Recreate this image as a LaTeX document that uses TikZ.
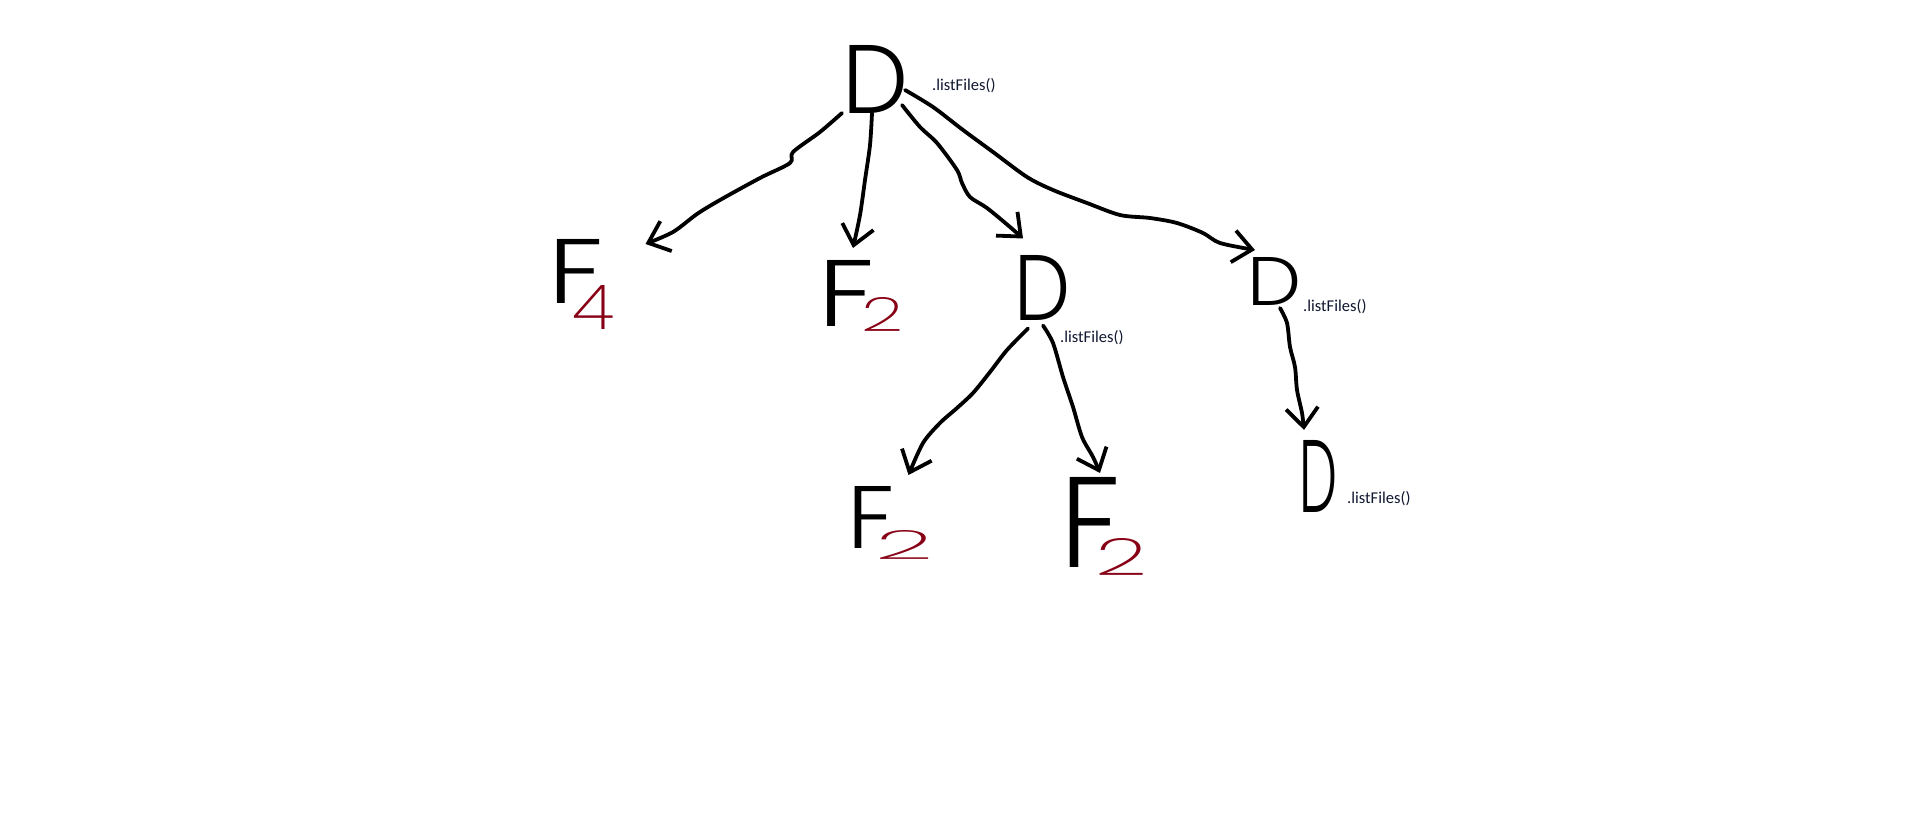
\documentclass[tikz,border=0pt]{standalone}
\usepackage{fontspec}
\usepackage{graphicx}
\newfontfamily\labelfont{Carlito}
\newfontfamily\lightsans{Poppins Light}
\newfontfamily\thinsans{Poppins ExtraLight}
\usetikzlibrary{arrows.meta}
\definecolor{inkred}{HTML}{880015}
\definecolor{labelink}{HTML}{101830}
% sans letters, stretched to a given width and height
\newcommand\sketchglyph[3]{\resizebox{#1pt}{#2pt}{\lightsans #3}}
\newcommand\sketchdigit[3]{\resizebox{#1pt}{#2pt}{\thinsans #3}}
\begin{document}
\begin{tikzpicture}[x=1pt,y=-1pt,
  letter/.style={inner sep=0pt, outer sep=0pt},
  subidx/.style={inner sep=0pt, outer sep=0pt, text=inkred},
  call/.style={inner sep=0pt, anchor=base west, text=labelink,
    font=\labelfont\fontsize{16.5}{18}\selectfont},
  link/.style={line width=3.8pt, line cap=round, line join=round,
    -{Straight Barb[length=19pt,width=32pt]}}
]
\fill[white] (0,0) rectangle (1908,820);
\useasboundingbox (0,0) rectangle (1908,820);

% directories and files
\node[letter] (d0)  at (876,79)   {\sketchglyph{66}{68}{D}};
\node[letter] (f4)  at (576,271)  {\sketchglyph{55}{64}{F}};
\node[letter] (f2a) at (846,293)  {\sketchglyph{56}{66}{F}};
\node[letter] (d3)  at (1042,288) {\sketchglyph{56}{65}{D}};
\node[letter] (d2)  at (1274,281) {\sketchglyph{54}{48}{D}};
\node[letter] (f2b) at (871,517)  {\sketchglyph{47}{62}{F}};
\node[letter] (f2c) at (1090,522) {\sketchglyph{60}{90}{F}};
\node[letter] (d4)  at (1318,476) {\sketchglyph{38}{72}{D}};

% file sizes
\node[subidx] (s4)  at (593,307)  {\sketchdigit{42}{44}{4}};
\node[subidx] (s2a) at (882,314)  {\sketchdigit{42}{34}{2}};
\node[subidx] (s2b) at (904,545)  {\sketchdigit{58}{29}{2}};
\node[subidx] (s2c) at (1121,557) {\sketchdigit{52}{37}{2}};

% method calls
\node[call] (c0) at (932,90)   {.listFiles()};
\node[call] (c3) at (1060,342) {.listFiles()};
\node[call] (c2) at (1303,311) {.listFiles()};
\node[call] (c4) at (1347,503) {.listFiles()};

% children of the root directory
\draw[link] plot[smooth, tension=0.5] coordinates {
  ([shift={(-1,0)}]d0.south west) (820,132) (793,152) (790,163) (760,178)
  (720,200) (697,214) (673,232) ([shift={(42,5)}]f4.north east)};
\draw[link] plot[smooth, tension=0.5] coordinates {
  ([xshift=-4]d0.south) (870,145) (865,180) (860,215)
  ([shift={(7,-12)}]f2a.north)};
\draw[link] plot[smooth, tension=0.5] coordinates {
  ([shift={(-7,-8)}]d0.south east) (920,127) (937,143) (957,170)
  (962,183) (970,197) (987,208) (1010,227) ([shift={(-19,-17)}]d3.north)};
\draw[link] plot[smooth, tension=0.5] coordinates {
  ([shift={(-4,11)}]d0.east) (933,107) (963,130) (993,152) (1027,177)
  (1053,190) (1087,203) (1120,215) (1150,218) (1177,223) (1203,233)
  (1220,243) ([shift={(-19,-7)}]d2.north)};

% children of the middle directory
\draw[link] plot[smooth, tension=0.5] coordinates {
  ([shift={(-14,8)}]d3.south) (1007,350) (990,372) (973,393) (957,408)
  (940,423) (923,443) ([shift={(14,-11)}]f2b.north east)};
\draw[link] plot[smooth, tension=0.5] coordinates {
  ([shift={(1,5)}]d3.south) (1053,343) (1063,377) (1073,407) (1082,437)
  (1093,457) ([shift={(10,-4)}]f2c.north)};

% child of the right directory
\draw[link] plot[smooth, tension=0.5] coordinates {
  ([shift={(6,3)}]d2.south) (1287,323) (1290,347) (1295,367) (1297,390)
  (1302,413) ([shift={(-14,-10)}]d4.north)};
\end{tikzpicture}
\end{document}
